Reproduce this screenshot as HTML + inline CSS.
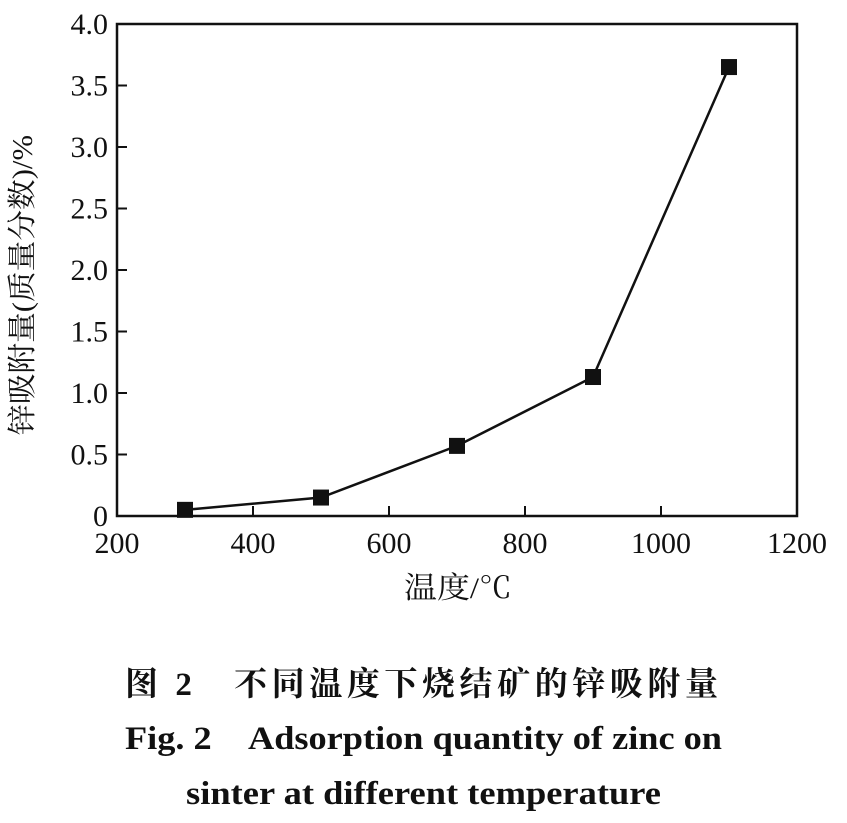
<!DOCTYPE html>
<html><head><meta charset="utf-8"><style>
body{margin:0;background:#fff;width:847px;height:818px;overflow:hidden}
svg text{font-family:"Liberation Serif","Noto Serif CJK SC",serif;fill:#111}
</style></head><body>
<svg id="c" width="847" height="818">
<rect x="117" y="24" width="680" height="492" fill="none" stroke="#111" stroke-width="2.5"/>
<g id="ticks"></g><g id="series"></g>
<text x="32" y="285" font-size="29" text-anchor="middle" textLength="300" lengthAdjust="spacingAndGlyphs" transform="rotate(-90 32 285)">锌吸附量(质量分数)/%</text>
<text x="458" y="598" font-size="30" text-anchor="middle" textLength="108" lengthAdjust="spacingAndGlyphs">温度/℃</text>
<text x="125" y="695" font-size="33" font-weight="bold" textLength="593" lengthAdjust="spacing" font-family="'Liberation Sans','Noto Sans CJK SC',sans-serif">图 2　不同温度下烧结矿的锌吸附量</text>
<text x="125" y="749" font-size="33" font-weight="bold" textLength="597" lengthAdjust="spacingAndGlyphs">Fig. 2　Adsorption quantity of zinc on</text>
<text x="186" y="804" font-size="33" font-weight="bold" textLength="475" lengthAdjust="spacingAndGlyphs">sinter at different temperature</text>
</svg>
<script>
const temps=[300,500,700,900,1100];
const zinc=[0.05,0.15,0.57,1.13,3.65];
const xTicks=[200,400,600,800,1000,1200];
const yTicks=[0,0.5,1.0,1.5,2.0,2.5,3.0,3.5,4.0];
const yLabels=["0","0.5","1.0","1.5","2.0","2.5","3.0","3.5","4.0"];
const NS="http://www.w3.org/2000/svg";
const X=v=>117+(v-200)*0.68, Y=v=>516-v*123;
function mk(t,a,p){const e=document.createElementNS(NS,t);for(const k in a)e.setAttribute(k,a[k]);p.appendChild(e);return e;}
const tg=document.getElementById('ticks'), sg=document.getElementById('series');
xTicks.forEach(v=>{
 if(v>200&&v<1200){const l=mk('line',{x1:X(v),x2:X(v),y1:516,y2:506,stroke:'#111','stroke-width':2},tg);
 }
 const t=mk('text',{x:X(v),y:553,'font-size':30,'text-anchor':'middle'},tg);t.textContent=v;
 
});
yTicks.forEach((v,i)=>{
 if(v>0&&v<4){const l=mk('line',{x1:117,x2:127,y1:Y(v),y2:Y(v),stroke:'#111','stroke-width':2},tg);
 }
 const t=mk('text',{x:108,y:Y(v)+10,'font-size':30,'text-anchor':'end'},tg);t.textContent=yLabels[i];
 
});
const pl=mk('polyline',{points:temps.map((t,i)=>X(t)+','+Y(zinc[i])).join(' '),fill:'none',stroke:'#111','stroke-width':2.5},sg);

temps.forEach((t,i)=>{const r=mk('rect',{x:X(t)-8,y:Y(zinc[i])-8,width:16,height:16,fill:'#111'},sg);
 });
</script>
</body></html>
